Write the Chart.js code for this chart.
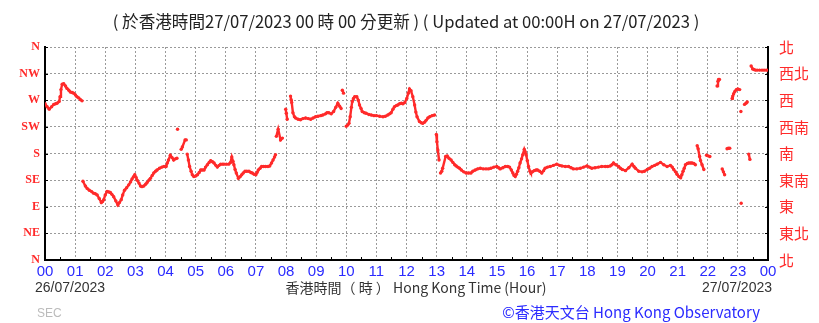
<!DOCTYPE html>
<html>
<head>
<meta charset="utf-8">
<script src="https://cdn.jsdelivr.net/npm/chart.js@4.4.0/dist/chart.umd.min.js"></script>
<style>
  html, body { margin: 0; padding: 0; background: #fff; }
  #wrap { width: 819px; height: 323px; position: relative; }
</style>
</head>
<body>
<div id="wrap"><canvas id="windChart" width="819" height="323"></canvas></div>
<script>
// Wind direction (degrees), time in hours from 00:00 26/07/2023
const hours = [
  0.00, 0.07, 0.14, 0.22, 0.29, 0.35, 0.40, 0.47, 0.50, 0.53, 0.57, 0.62, 0.68, 0.73, 0.79, 0.84, 0.90, 0.95, 1.01, 1.06, 1.12, 1.18, 1.23,
  1.26, 1.34, 1.40, 1.47, 1.54, 1.61, 1.67, 1.73, 1.80, 1.87, 1.91, 1.95, 2.00, 2.06, 2.12, 2.17, 2.22, 2.28, 2.35, 2.42, 2.47, 2.53,
  2.58, 2.64, 2.71, 2.78, 2.84, 2.89, 2.94, 2.98, 3.02, 3.06, 3.12, 3.17, 3.22, 3.28, 3.34, 3.39, 3.45, 3.50, 3.56, 3.61, 3.67, 3.72,
  3.80, 3.88, 3.95, 4.02, 4.06, 4.10, 4.16, 4.22, 4.27, 4.33, 4.38, 4.40, 4.52, 4.56, 4.65, 4.69, 4.72, 4.76, 4.80, 4.85, 4.89, 4.94,
  5.00, 5.06, 5.12, 5.17, 5.22, 5.28, 5.33, 5.39, 5.45, 5.50, 5.56, 5.61, 5.67, 5.72, 5.78, 5.83, 5.89, 5.94, 6.02, 6.10, 6.16, 6.20,
  6.24, 6.27, 6.31, 6.35, 6.42, 6.48, 6.53, 6.58, 6.64, 6.70, 6.77, 6.83, 6.88, 6.94, 7.00, 7.04, 7.08, 7.14, 7.19, 7.25, 7.32, 7.40,
  7.46, 7.52, 7.57, 7.62, 7.65, 7.68, 7.74, 7.82, 7.88, 7.99, 8.01, 8.04, 8.15, 8.17, 8.19, 8.23, 8.28, 8.32, 8.40, 8.48, 8.56, 8.65,
  8.74, 8.82, 8.90, 8.98, 9.06, 9.15, 9.22, 9.31, 9.36, 9.42, 9.50, 9.58, 9.65, 9.72, 9.78, 9.83, 9.87, 9.91,
  10.00, 10.05, 10.09, 10.13, 10.17, 10.20, 10.24, 10.28, 10.35, 10.40, 10.44, 10.49, 10.53, 10.60, 10.66, 10.75, 10.83, 10.92,
  11.00, 11.11, 11.22, 11.30, 11.38, 11.44, 11.49, 11.55, 11.60, 11.66, 11.71, 11.77, 11.83, 11.88, 11.94,
  12.01, 12.06, 12.10, 12.15, 12.21, 12.27, 12.31, 12.35, 12.43, 12.49, 12.54, 12.60, 12.65, 12.71, 12.77, 12.85, 12.93,
  12.99, 13.01, 13.04, 13.08, 13.13, 13.17, 13.20, 13.30, 13.35, 13.41, 13.48, 13.54, 13.60, 13.65, 13.70, 13.76, 13.82, 13.90, 13.98,
  14.06, 14.14, 14.20, 14.28, 14.36, 14.45, 14.55, 14.64, 14.72, 14.80, 14.90,
  15.00, 15.06, 15.11, 15.20, 15.28, 15.36, 15.42, 15.48, 15.53, 15.57, 15.61, 15.65, 15.69, 15.73, 15.77, 15.82, 15.86, 15.91, 15.94, 15.97,
  16.01, 16.05, 16.10, 16.13, 16.18, 16.24, 16.30, 16.35, 16.42, 16.49, 16.55, 16.60, 16.68, 16.77, 16.88, 16.99,
  17.08, 17.16, 17.27, 17.38, 17.46, 17.54, 17.65, 17.77, 17.88, 17.99,
  18.07, 18.15, 18.26, 18.37, 18.48, 18.60, 18.68, 18.76, 18.82, 18.87, 18.95,
  19.04, 19.10, 19.16, 19.27, 19.38, 19.49, 19.55, 19.60, 19.71, 19.82, 19.90, 19.99,
  20.07, 20.15, 20.24, 20.32, 20.43, 20.54, 20.65, 20.76, 20.82, 20.87, 20.93, 20.98,
  21.04, 21.10, 21.14, 21.18, 21.22, 21.26, 21.32, 21.37, 21.43, 21.48, 21.54, 21.59, 21.65, 21.68, 21.73, 21.76, 21.81, 21.87, 21.96,
  22.01, 22.07, 22.31, 22.34, 22.36, 22.39, 22.48, 22.52, 22.56, 22.64, 22.68, 22.73, 22.81, 22.83, 22.86, 22.90, 22.95,
  23.00, 23.06, 23.10, 23.11, 23.22, 23.27, 23.31, 23.36, 23.40, 23.44, 23.49, 23.53, 23.58, 23.64, 23.72, 23.80, 23.87, 23.94, 24.00
];
const directions = [
  264, 259, 255, 259, 263, 264, 265, 268, 276, 288, 297, 298, 294, 290, 287, 284, 283, 282, 279, 276, 274, 271, 269,
  133, 125, 121, 118, 116, 113, 112, 110, 104, 97, 99, 102, 110, 116, 115, 114, 111, 107, 100, 93, 97, 102,
  110, 118, 122, 127, 132, 137, 141, 144, 140, 135, 130, 125, 124, 125, 128, 131, 135, 138, 143, 147, 150, 152,
  155, 157, 158, 158, 164, 169, 177, 173, 169, 171, 172, 221, 187, 191, 203, 203, 179, 169, 158, 150, 144, 141,
  142, 144, 148, 152, 152, 152, 157, 161, 165, 168, 166, 164, 160, 157, 160, 162, 162, 162, 162, 162, 165, 174,
  167, 161, 153, 147, 138, 141, 144, 147, 150, 150, 150, 148, 147, 145, 144, 148, 152, 155, 158, 158, 158, 158,
  159, 164, 169, 174, 178, 209, 221, 203, 206, 255, 248, 238, 277, 271, 266, 249, 242, 240, 238, 237, 239, 240,
  239, 238, 240, 242, 243, 244, 245, 247, 249, 249, 247, 251, 258, 265, 260, 256, 287, 282,
  226, 228, 231, 242, 258, 268, 273, 276, 276, 270, 262, 256, 251, 249, 248, 246, 245, 244,
  244, 243, 242, 243, 245, 247, 249, 255, 259, 261, 262, 264, 265, 264, 266,
  273, 282, 289, 286, 276, 262, 250, 242, 234, 232, 231, 233, 236, 240, 242, 244, 245,
  212, 200, 186, 169, 147, 150, 155, 175, 176, 172, 169, 165, 161, 159, 157, 155, 152, 149, 147,
  147, 147, 150, 152, 154, 155, 154, 154, 154, 155, 157,
  158, 156, 154, 156, 158, 158, 157, 152, 147, 143, 141, 145, 150, 156, 164, 171, 178, 187, 183, 178,
  168, 158, 150, 147, 149, 151, 152, 152, 150, 147, 151, 155, 157, 158, 160, 162,
  160, 159, 158, 158, 156, 154, 154, 155, 157, 159,
  157, 155, 156, 157, 158, 158, 158, 159, 161, 164, 161,
  158, 155, 153, 151, 156, 162, 158, 155, 150, 149, 150, 153,
  155, 158, 160, 162, 165, 161, 158, 160, 157, 153, 149, 145,
  141, 139, 144, 150, 155, 161, 163, 164, 164, 164, 163, 161, 193, 188, 175, 168, 161, 153, 177,
  176, 175, 294, 302, 305, 305, 154, 149, 144, 188, 189, 189, 273, 277, 281, 285, 288,
  289, 288, 251, 96, 263, 265, 267, 179, 170, 328, 323, 322, 321, 321, 321, 321, 321, 321, 321
];
const hourLabels = ["00","01","02","03","04","05","06","07","08","09","10","11","12",
                    "13","14","15","16","17","18","19","20","21","22","23","00"];
const dirLabelsEn = ["N", "NE", "E", "SE", "S", "SW", "W", "NW", "N"];
const dirLabelsZh = ["北", "東北", "東", "東南", "南", "西南", "西", "西北", "北"];

const RED = "#ff2a2a";
const BLUE = "#2b2bff";
const GRID = "#9a9a9a";

const points = hours.map((h, i) => ({ x: h, y: directions[i] }));

// titles, footer text and minor ticks
const decorPlugin = {
    id: "decor",
    afterDraw(chart) {
        const c = chart.ctx;
        const area = chart.chartArea;
        const xs = chart.scales.x;
        const ys = chart.scales.y;
        c.save();

        c.fillStyle = "#222";
        c.font = "16.6px 'Noto Sans CJK TC'";
        c.textAlign = "center";
        c.textBaseline = "middle";
        c.fillText("( 於香港時間27/07/2023 00 時 00 分更新 ) ( Updated at 00:00H on 27/07/2023 )", 406, 22);

        c.font = "14px 'Liberation Sans', Arial";
        c.fillStyle = "#333";
        c.textAlign = "left";
        c.fillText("26/07/2023", 35, 288);
        c.textAlign = "right";
        c.fillText("27/07/2023", 772, 288);
        c.textAlign = "center";
        c.font = "14px 'Noto Sans CJK TC'";
        c.fillText("香港時間（ 時 ） Hong Kong Time (Hour)", 416, 288);

        c.fillStyle = BLUE;
        c.textAlign = "right";
        c.font = "15px 'Noto Sans CJK TC'";
        c.fillText("©香港天文台 Hong Kong Observatory", 760, 312);

        c.fillStyle = "#bbb";
        c.textAlign = "left";
        c.font = "12px 'Liberation Sans', Arial";
        c.fillText("SEC", 37, 314);

        // minor ticks
        c.strokeStyle = "#000";
        c.lineWidth = 1;
        c.beginPath();
        for (let t = 0.5; t < 24; t += 1) {
            const px = Math.round(xs.getPixelForValue(t)) + 0.5;
            c.moveTo(px, area.bottom);
            c.lineTo(px, area.bottom - 3);
        }
        for (let d = 0; d <= 360; d += 45) {
            const py = Math.round(ys.getPixelForValue(d)) + 0.5;
            c.moveTo(area.left, py);
            c.lineTo(area.left + 3, py);
            c.moveTo(area.right, py);
            c.lineTo(area.right - 3, py);
        }
        c.stroke();
        c.restore();
    }
};

const gridOpts = {
    color: GRID,
    lineWidth: 1,
    drawTicks: false
};

new Chart(document.getElementById("windChart").getContext("2d"), {
    type: "scatter",
    data: {
        datasets: [{
            data: points,
            showLine: true,
            borderColor: RED,
            borderWidth: 2.4,
            backgroundColor: RED,
            pointRadius: 1.7,
            pointBorderWidth: 0,
            pointHoverRadius: 0,
            segment: {
                borderColor: ctx => {
                    const dx = ctx.p1.parsed.x - ctx.p0.parsed.x;
                    const dy = Math.abs(ctx.p1.parsed.y - ctx.p0.parsed.y);
                    return (dx > 0.13 || dy > 20) ? "transparent" : RED;
                }
            }
        }]
    },
    options: {
        responsive: false,
        animation: false,
        events: [],
        layout: { padding: { top: 47, left: 0, right: 0, bottom: 0 } },
        plugins: {
            legend: { display: false },
            tooltip: { enabled: false }
        },
        scales: {
            x: {
                type: "linear",
                min: 0,
                max: 24,
                afterFit: s => { s.height = 63; },
                afterBuildTicks: s => { s.ticks = hourLabels.map((_, i) => ({ value: i })); },
                ticks: {
                    autoSkip: false,
                    maxRotation: 0,
                    padding: 3,
                    color: BLUE,
                    font: { family: "'Liberation Sans', Arial", size: 15 },
                    callback: (v, i) => hourLabels[i]
                },
                grid: { ...gridOpts },
                border: { display: true, color: "#000", width: 2, dash: [2, 2] }
            },
            y: {
                position: "left",
                min: 0,
                max: 360,
                afterFit: s => { s.width = 45; },
                afterBuildTicks: s => { s.ticks = dirLabelsEn.map((_, i) => ({ value: i * 45 })); },
                ticks: {
                    autoSkip: false,
                    padding: 5,
                    color: RED,
                    font: { family: "'Liberation Serif'", size: 12, weight: "bold" },
                    callback: (v, i) => dirLabelsEn[i]
                },
                grid: { ...gridOpts },
                border: { display: true, color: "#000", width: 2, dash: [2, 2] }
            },
            y2: {
                position: "right",
                min: 0,
                max: 360,
                afterFit: s => { s.width = 51; },
                afterBuildTicks: s => { s.ticks = dirLabelsZh.map((_, i) => ({ value: i * 45 })); },
                ticks: {
                    autoSkip: false,
                    padding: 3,
                    color: RED,
                    font: { family: "'Noto Sans CJK TC'", size: 15 },
                    callback: (v, i) => dirLabelsZh[i]
                },
                grid: { display: false },
                border: { display: true, color: "#000", width: 2 }
            }
        }
    },
    plugins: [decorPlugin]
});
</script>
</body>
</html>
